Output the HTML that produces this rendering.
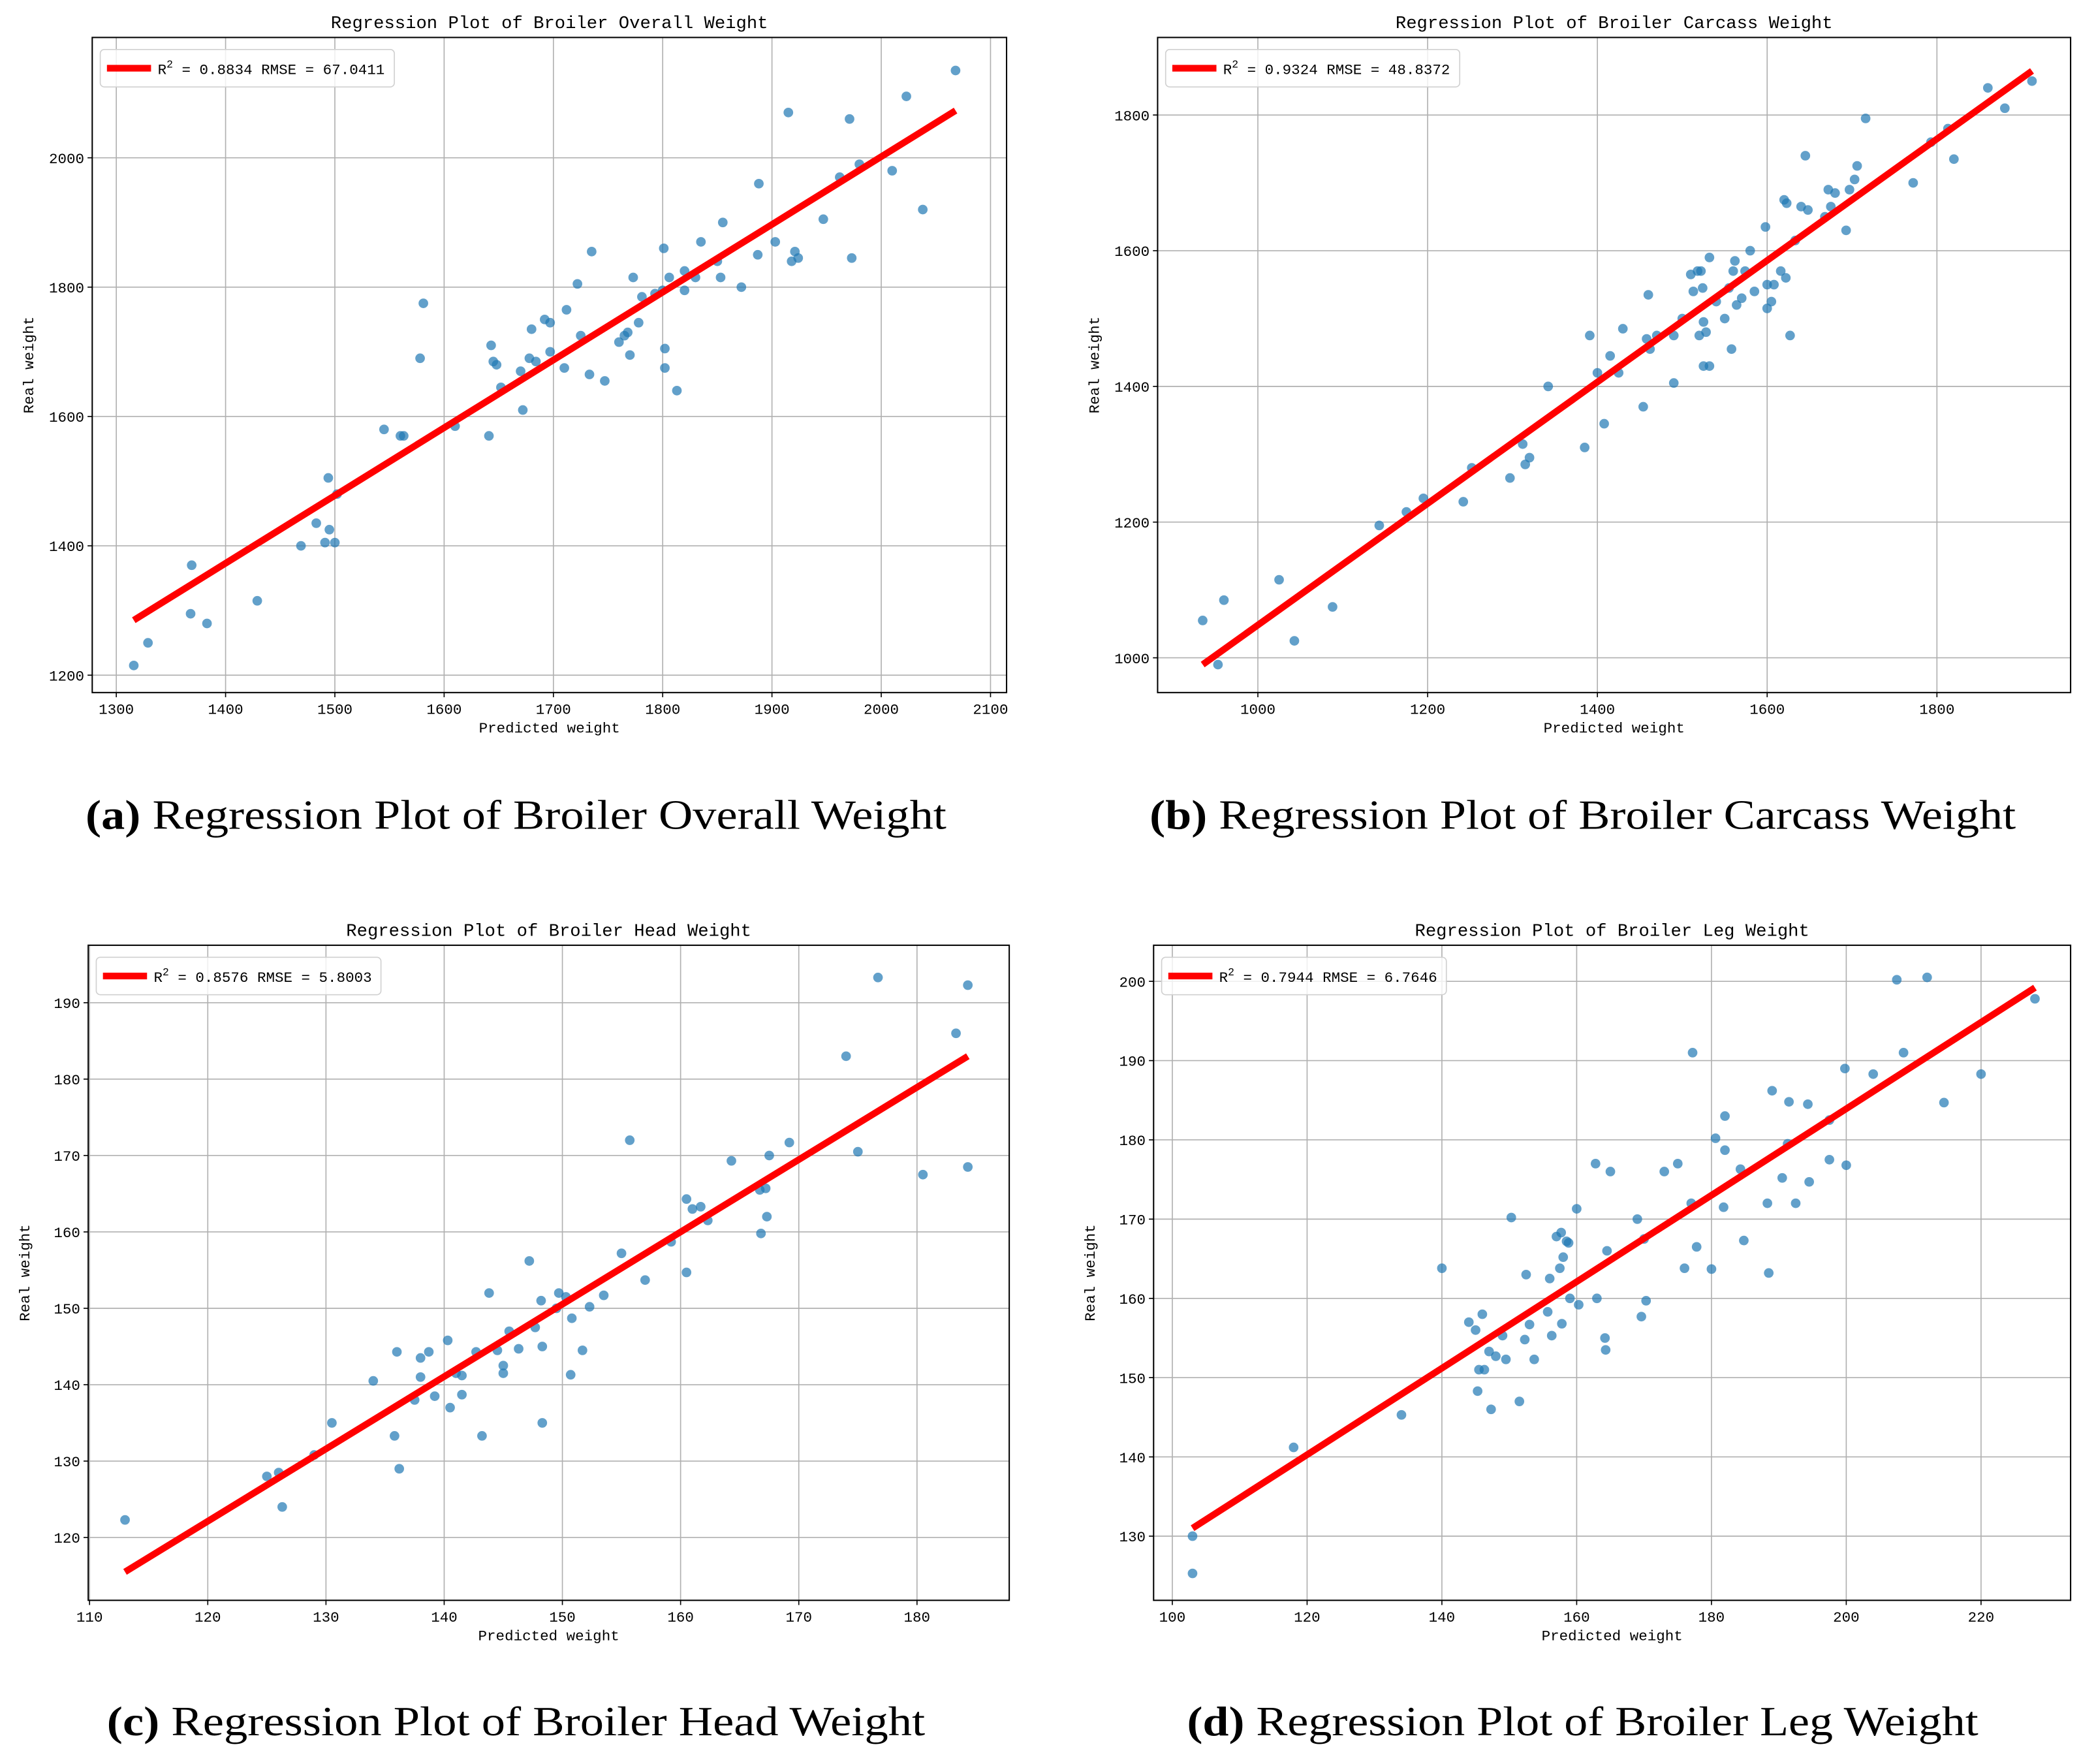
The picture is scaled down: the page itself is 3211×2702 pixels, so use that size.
<!DOCTYPE html>
<html><head><meta charset="utf-8"><style>
html,body{margin:0;padding:0;background:#fff}
svg{display:block}
</style></head><body>
<svg id="fig" xmlns="http://www.w3.org/2000/svg" width="3211" height="2702" viewBox="0 0 1568 1319.4"></svg>
<script>
const titlesA="Regression Plot of Broiler Overall Weight";
const xTicksA=[1300,1400,1500,1600,1700,1800,1900,2000,2100];
const yTicksA=[1200,1400,1600,1800,2000];
const predA=[1316,1329,1368,1369,1383,1429,1469,1483,1491,1495,1494,1500,1502,1545,1560,1563,1578,1581,1610,1641,1643,1645,1648,1652,1670,1672,1678,1680,1684,1692,1697,1697,1710,1712,1722,1725,1733,1735,1747,1760,1765,1768,1770,1773,1778,1781,1793,1800,1801,1802,1802,1806,1813,1820,1820,1830,1835,1850,1853,1855,1872,1887,1888,1903,1915,1918,1921,1924,1947,1962,1971,1973,1980,2010,2023,2038,2068];
const realA=[1215,1250,1295,1370,1280,1315,1400,1435,1405,1425,1505,1405,1480,1580,1570,1570,1690,1775,1585,1570,1710,1685,1680,1645,1670,1610,1690,1735,1685,1750,1700,1745,1675,1765,1805,1725,1665,1855,1655,1715,1725,1730,1695,1815,1745,1785,1790,1795,1860,1705,1675,1815,1640,1825,1795,1815,1870,1840,1815,1900,1800,1850,1960,1870,2070,1840,1855,1845,1905,1970,2060,1845,1990,1980,2095,1920,2135];
const fitA=[[1316,1285],[2068,2073]];

const xTicksB=[1000,1200,1400,1600,1800];
const yTicksB=[1000,1200,1400,1600,1800];
const predB=[935,953,960,1025,1043,1088,1143,1175,1195,1242,1252,1297,1312,1315,1320,1342,1385,1391,1400,1408,1415,1425,1430,1454,1458,1460,1462,1470,1490,1490,1500,1510,1513,1518,1520,1522,1524,1525,1525,1528,1532,1532,1540,1550,1555,1558,1560,1562,1564,1570,1574,1580,1585,1598,1600,1600,1605,1608,1616,1620,1622,1623,1627,1633,1640,1645,1648,1668,1672,1675,1680,1693,1697,1703,1706,1716,1772,1793,1813,1820,1860,1880,1912];
const realB=[1055,990,1085,1115,1025,1075,1195,1215,1235,1230,1280,1265,1315,1285,1295,1400,1310,1475,1420,1345,1445,1420,1485,1370,1470,1535,1455,1475,1405,1475,1500,1565,1540,1570,1475,1570,1545,1495,1430,1480,1590,1430,1525,1500,1545,1455,1570,1585,1520,1530,1570,1600,1540,1635,1515,1550,1525,1550,1570,1675,1560,1670,1475,1615,1665,1740,1660,1650,1690,1665,1685,1630,1690,1705,1725,1795,1700,1760,1780,1735,1840,1810,1850];
const fitB=[[935,990],[1912,1865]];

const xTicksC=[110,120,130,140,150,160,170,180];
const yTicksC=[120,130,140,150,160,170,180,190];
const predC=[113,125,126,126.3,129,130.5,134,135.8,136,136.2,137.5,138,138,138.7,139.2,140.3,140.5,141,141.5,141.5,142.7,143.2,143.8,144.5,145,145,145.5,146.3,147.2,147.7,148.2,148.3,148.3,149.5,149.7,150.3,150.7,150.8,151.7,152.3,153.5,155,155.7,157,159.2,160.5,160.5,161,161.7,162.3,164.3,166.7,166.8,167.2,167.3,167.5,169.2,174,175,176.7,180.5,183.3,184.3,184.3];
const realC=[122.3,128,128.5,124,130.8,135,140.5,133.3,144.3,129,138,141,143.5,144.3,138.5,145.8,137,141.5,141.2,138.7,144.3,133.3,152,144.5,141.5,142.5,147,144.7,156.2,147.5,151,135,145,150,152,151.5,141.3,148.7,144.5,150.2,151.7,157.2,172,153.7,158.7,164.3,154.7,163,163.3,161.5,169.3,165.5,159.8,165.7,162,170,171.7,183,170.5,193.3,167.5,186,168.5,192.3];
const fitC=[[113,115.5],[184.3,183]];

const xTicksD=[100,120,140,160,180,200,220];
const yTicksD=[130,140,150,160,170,180,190,200];
const predD=[103,103,118,134,140,144,145,145.5,145.3,146,146.3,147,147.3,148,149,149.5,150.3,151.5,152.3,152.5,153,153.7,155.7,156,156.3,157,157.5,157.7,157.8,158,158.5,158.8,159,160,160.3,162.8,163,164.2,164.3,164.5,165,169,169.6,170,170.3,173,175,176,177,177.2,177.8,180,180.6,181.8,182,182,184.3,184.8,188.3,188.5,189,190.5,191.3,191.5,192.5,194.3,194.5,197.5,197.5,199.8,200,204,207.5,208.5,212,214.5,220,228];
const realD=[130,125.3,141.2,145.3,163.8,157,156,151,148.3,158,151,153.3,146,152.7,155.3,152.3,170.2,147,154.8,163,156.7,152.3,158.3,162.5,155.3,167.8,163.8,168.3,156.8,165.2,167.2,167,160,171.3,159.2,177,160,155,153.5,166,176,170,157.7,167.5,159.7,176,177,163.8,172,191,166.5,163.7,180.2,171.5,183,178.7,176.3,167.3,172,163.2,186.2,175.2,179.5,184.8,172,184.5,174.7,182.5,177.5,189,176.8,188.3,200.2,191,200.5,184.7,188.3,197.8];
const fitD=[[103,131],[228,199.2]];

const NS="http://www.w3.org/2000/svg";
const svg=document.getElementById('fig');
function mk(tag,attrs,parent,text){const e=document.createElementNS(NS,tag);for(const k in attrs)e.setAttribute(k,attrs[k]);if(text!==undefined)e.textContent=text;(parent||svg).appendChild(e);return e;}
const MONO='"Liberation Mono","DejaVu Sans Mono",monospace';

function panel(id,box,xr,yr,xt,yt,px,py,fit,title,legend,capLetter,capText,capY,capW,capC){
  const g=mk('g',{});
  
  
  const [L,T,R,B]=box;
  const X=v=>xr[2]+(v-xr[0])*(xr[3]-xr[2])/(xr[1]-xr[0]);
  const Y=v=>yr[2]+(v-yr[0])*(yr[3]-yr[2])/(yr[1]-yr[0]);
  xt.forEach(t=>{const x=X(t);
    const l=mk('line',{x1:x,x2:x,y1:T,y2:B,stroke:'#b0b0b0','stroke-width':0.8},g);
    
    mk('line',{x1:x,x2:x,y1:B,y2:B+3.5,stroke:'#000','stroke-width':0.8},g);
    const tx=mk('text',{x:x,y:B+16,'font-size':11,'font-family':MONO,'text-anchor':'middle'},g,String(t));
    
  });
  yt.forEach(t=>{const y=Y(t);
    const l=mk('line',{x1:L,x2:R,y1:y,y2:y,stroke:'#b0b0b0','stroke-width':0.8},g);
    
    mk('line',{x1:L-3.5,x2:L,y1:y,y2:y,stroke:'#000','stroke-width':0.8},g);
    const tx=mk('text',{x:L-6,y:y+4,'font-size':11,'font-family':MONO,'text-anchor':'end'},g,String(t));
    
  });
  px.forEach((v,i)=>{
    const c=mk('circle',{cx:X(v),cy:Y(py[i]),r:3.6,fill:'#1f77b4','fill-opacity':0.7},g);
    
  });
  const fl=mk('line',{x1:X(fit[0][0]),y1:Y(fit[0][1]),x2:X(fit[1][0]),y2:Y(fit[1][1]),stroke:'#ff0000','stroke-width':5},g);
  
  const fr=mk('rect',{x:L,y:T,width:R-L,height:B-T,fill:'none',stroke:'#000','stroke-width':1},g);
  
  const tt=mk('text',{x:(L+R)/2,y:T-7,'font-size':13.3,'font-family':MONO,'text-anchor':'middle'},g,title);
  
  const xl=mk('text',{x:(L+R)/2,y:B+30,'font-size':11,'font-family':MONO,'text-anchor':'middle'},g,'Predicted weight');
  
  const yl=mk('text',{x:0,y:0,'font-size':11,'font-family':MONO,'text-anchor':'middle',transform:`translate(${L-44},${(T+B)/2}) rotate(-90)`},g,'Real weight');
  
  const lg=mk('g',{},g);
  
  const lw=7*legend.length+73;
  mk('rect',{x:L+6,y:T+9,width:lw,height:28,rx:3,fill:'#fff','fill-opacity':0.8,stroke:'#d0d0d0','stroke-width':0.8},lg);
  mk('line',{x1:L+11,x2:L+44,y1:T+23,y2:T+23,stroke:'#ff0000','stroke-width':5},lg);
  const lt=mk('text',{x:L+49,y:T+27.5,'font-size':11,'font-family':MONO},lg);
  mk('tspan',{},lt,'R');
  mk('tspan',{dy:-5,'font-size':8},lt,'2');
  mk('tspan',{dy:5},lt,' = '+legend);
  const cp=mk('text',{x:capC-capW/2,y:capY,'font-size':31,'font-family':'"Liberation Serif",serif',textLength:capW,lengthAdjust:'spacingAndGlyphs'},g);
  
  mk('tspan',{'font-weight':'bold'},cp,'('+capLetter+')');
  mk('tspan',{},cp,' '+capText);
}
panel('a',[69,28,753,518],[1300,2100,87,741],[1200,2000,505,118],xTicksA,yTicksA,predA,realA,fitA,titlesA,'0.8834 RMSE = 67.0411','a','Regression Plot of Broiler Overall Weight',620,644,386);
panel('b',[866,28,1549,518],[1000,1800,941,1449],[1000,1800,492,86],xTicksB,yTicksB,predB,realB,fitB,'Regression Plot of Broiler Carcass Weight','0.9324 RMSE = 48.8372','b','Regression Plot of Broiler Carcass Weight',620,648,1184);
panel('c',[66,707,755,1197],[110,180,67,686],[120,190,1150,750],xTicksC,yTicksC,predC,realC,fitC,'Regression Plot of Broiler Head Weight','0.8576 RMSE = 5.8003','c','Regression Plot of Broiler Head Weight',1298,612,386);
panel('d',[863,707,1549,1197],[100,220,877,1482],[130,200,1149,734],xTicksD,yTicksD,predD,realD,fitD,'Regression Plot of Broiler Leg Weight','0.7944 RMSE = 6.7646','d','Regression Plot of Broiler Leg Weight',1298,592,1184);
</script>
</body></html>
